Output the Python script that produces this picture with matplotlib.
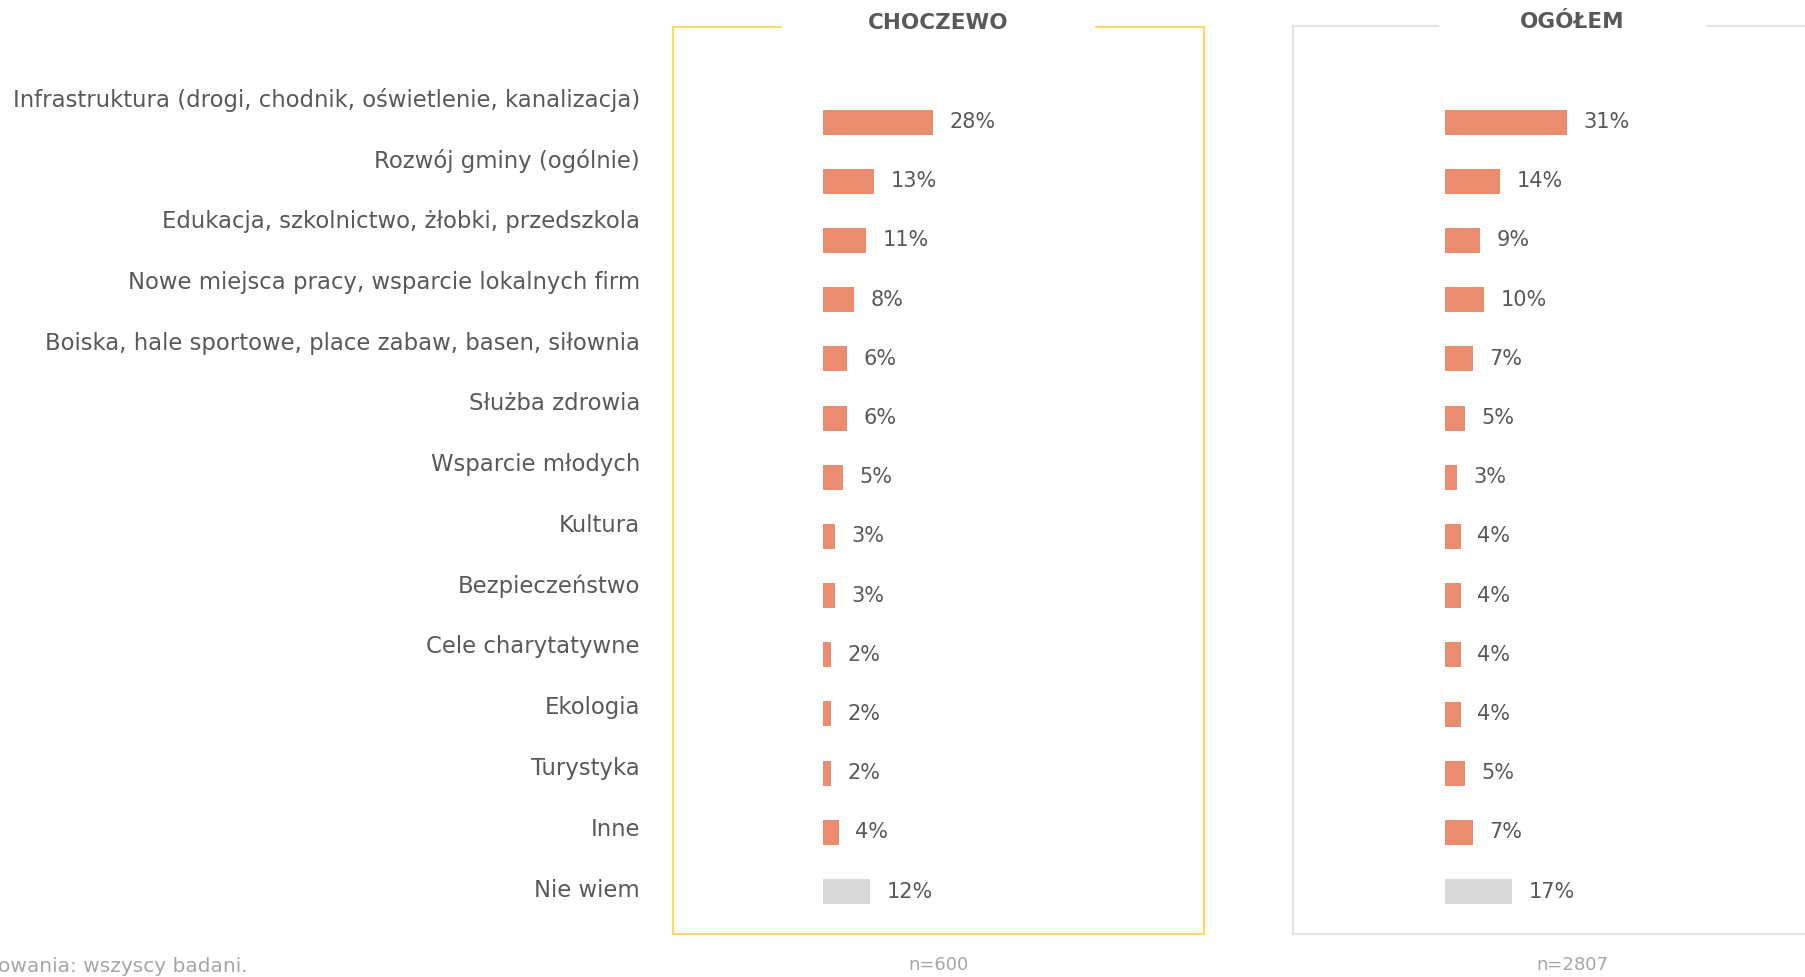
import numpy as np
import matplotlib.pyplot as plt

# dane
categories = ['Infrastruktura (drogi, chodnik, oświetlenie, kanalizacja)',
              'Rozwój gminy (ogólnie)',
              'Edukacja, szkolnictwo, żłobki, przedszkola',
              'Nowe miejsca pracy, wsparcie lokalnych firm',
              'Boiska, hale sportowe, place zabaw, basen, siłownia',
              'Służba zdrowia',
              'Wsparcie młodych',
              'Kultura',
              'Bezpieczeństwo',
              'Cele charytatywne',
              'Ekologia',
              'Turystyka',
              'Inne',
              'Nie wiem']
choczewo = [28, 13, 11, 8, 6, 6, 5, 3, 3, 2, 2, 2, 4, 12]
ogolem = [31, 14, 9, 10, 7, 5, 3, 4, 4, 4, 4, 5, 7, 17]
titles = ['CHOCZEWO', 'OGÓŁEM']
n_labels = ['n=600', 'n=2807']

W, H = 1805, 977
ORANGE = '#E98D6E'
GREY_BAR = '#D9D9D9'
TXT = '#595959'
plt.rcParams['font.family'] = ['DejaVu Sans']

fig = plt.figure(figsize=(W / 100, H / 100), dpi=100)


def px_axes(left, top, right, bottom):
    return fig.add_axes([left / W, 1 - bottom / H, (right - left) / W, (bottom - top) / H])


n = len(categories)
row = 59.2          # odstep wierszy w px
first = 122         # srodek pierwszego slupka
ppp = 3.93          # px na 1%

panels = [
    # ramka: lewo, gora, prawo, dol, zero osi x, kolor linii, przerwa na tytul
    (673, 27, 1204, 934, 823, '#FFD966', (0.203, 0.797), choczewo, titles[0], n_labels[0]),
    (1293, 26, 1824, 934, 1445, '#E3E3E3', (0.273, 0.78), ogolem, titles[1], n_labels[1]),
]

for (l, t, r, b, x0, lc, gap, vals, title, nl) in panels:
    ax = px_axes(l, t, r, b)
    ax.set_xlim(-(x0 - l) / ppp, (r - x0) / ppp)
    ax.set_ylim((b - first) / row, -(first - t) / row)
    y = np.arange(n)
    colors = [ORANGE] * (n - 1) + [GREY_BAR]
    ax.barh(y, vals, height=25 / row, color=colors)
    for yi, v in zip(y, vals):
        ax.annotate(f'{v}%', (v, yi), xytext=(12, 0), textcoords='offset points',
                    ha='left', va='center', fontsize=15, color=TXT)
    ax.set_xticks([])
    ax.set_yticks([])
    ax.spines['top'].set_visible(False)
    for s in ['left', 'right', 'bottom']:
        ax.spines[s].set_color(lc)
        ax.spines[s].set_linewidth(1.5)
    ax.plot([0, gap[0]], [1, 1], transform=ax.transAxes, color=lc, lw=1.5, clip_on=False)
    ax.plot([gap[1], 1], [1, 1], transform=ax.transAxes, color=lc, lw=1.5, clip_on=False)
    cx = (sum(gap) / 2)
    ax.text(cx, 1 + 4 / (b - t), title, transform=ax.transAxes, ha='center', va='center',
            fontsize=15.5, fontweight='bold', color=TXT)
    ax.text(cx, -(965 - b) / (b - t), nl, transform=ax.transAxes, ha='center', va='center',
            fontsize=13, color='#A6A6A6')

# etykiety kategorii
lab_top, lab_step = 100, 60.77
axl = px_axes(0, lab_top - lab_step / 2, 640, lab_top + lab_step * (n - 0.5))
axl.set_ylim(n - 0.5, -0.5)
axl.set_xlim(0, 1)
axl.axis('off')
for i, c in enumerate(categories):
    axl.text(1, i, c, ha='right', va='center', fontsize=16.4, color=TXT)

fig.text(248 / W, 1 - 967 / H, 'Podstawa procentowania: wszyscy badani.', ha='right', va='center',
         fontsize=14.5, color='#A6A6A6')

fig.savefig('out.png', dpi=100)
